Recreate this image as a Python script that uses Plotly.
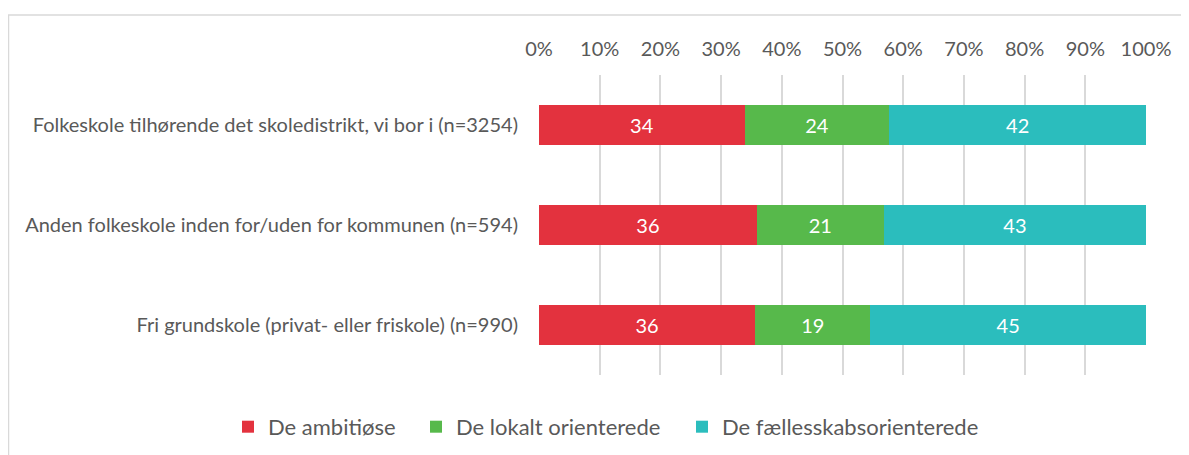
import plotly.graph_objects as go

categories = [
    "Folkeskole tilhørende det skoledistrikt, vi bor i (n=3254)",
    "Anden folkeskole inden for/uden for kommunen (n=594)",
    "Fri grundskole (privat- eller friskole) (n=990)",
]
series_names = ["De ambitiøse", "De lokalt orienterede", "De fællesskabsorienterede"]
ambitiose = [33.9, 35.9, 35.6]
lokalt = [23.8, 20.9, 19.0]
faelles = [42.3, 43.2, 45.4]
ambitiose_labels = ["34", "36", "36"]
lokalt_labels = ["24", "21", "19"]
faelles_labels = ["42", "43", "45"]
tick_vals = [0, 10, 20, 30, 40, 50, 60, 70, 80, 90, 100]
tick_text = ["0%", "10%", "20%", "30%", "40%", "50%", "60%", "70%", "80%", "90%", "100%"]

colors = ["#E3323E", "#57B94B", "#2BBDBD"]
FONT = "Lato"
GRAY = "#595959"

legend_ids = ["legend", "legend2", "legend3"]
legend_x = [-0.5124, -0.2026, 0.2356]

fig = go.Figure()
for name, vals, labs, col, lid in zip(series_names, [ambitiose, lokalt, faelles],
                                      [ambitiose_labels, lokalt_labels, faelles_labels],
                                      colors, legend_ids):
    fig.add_trace(go.Bar(
        y=categories, x=vals, name=name, orientation="h",
        marker=dict(color=col, line=dict(width=0)),
        text=labs, textposition="inside", insidetextanchor="middle",
        textfont=dict(color="white", size=20, family=FONT),
        hoverinfo="skip", legend=lid,
    ))

legend_common = dict(orientation="h", xref="paper", yref="paper", y=-0.173,
                     xanchor="left", yanchor="middle",
                     font=dict(size=22, color=GRAY, family=FONT), itemwidth=30)

# page body has an 8px default margin, so the figure is 8px smaller
fig.update_layout(
    barmode="stack",
    bargap=0.6,
    width=1181, height=447,
    margin=dict(l=531, r=43, t=67, b=80, autoexpand=False),
    paper_bgcolor="white", plot_bgcolor="white",
    font=dict(family=FONT, color=GRAY, size=20),
    showlegend=True,
    legend=dict(x=legend_x[0], **legend_common),
    legend2=dict(x=legend_x[1], **legend_common),
    legend3=dict(x=legend_x[2], **legend_common),
    xaxis=dict(side="top", range=[0, 100], tickvals=tick_vals, ticktext=tick_text,
               showgrid=True, gridcolor="#D9D9D9", gridwidth=1.5, zeroline=False,
               showline=False, ticks="", ticklabelstandoff=14, automargin=False,
               tickfont=dict(size=20, color=GRAY, family=FONT), fixedrange=True),
    yaxis=dict(autorange="reversed", showgrid=False, zeroline=False, showline=False,
               ticks="", ticklabelstandoff=20, automargin=False,
               tickfont=dict(size=20, color=GRAY, family=FONT)),
    shapes=[dict(type="rect", xref="paper", yref="paper",
                 x0=-0.8740, x1=1.3, y0=-0.6, y1=1.2,
                 line=dict(color="#D9D9D9", width=1.5), fillcolor="rgba(0,0,0,0)",
                 layer="below")],
)

fig.write_html("out.html")
